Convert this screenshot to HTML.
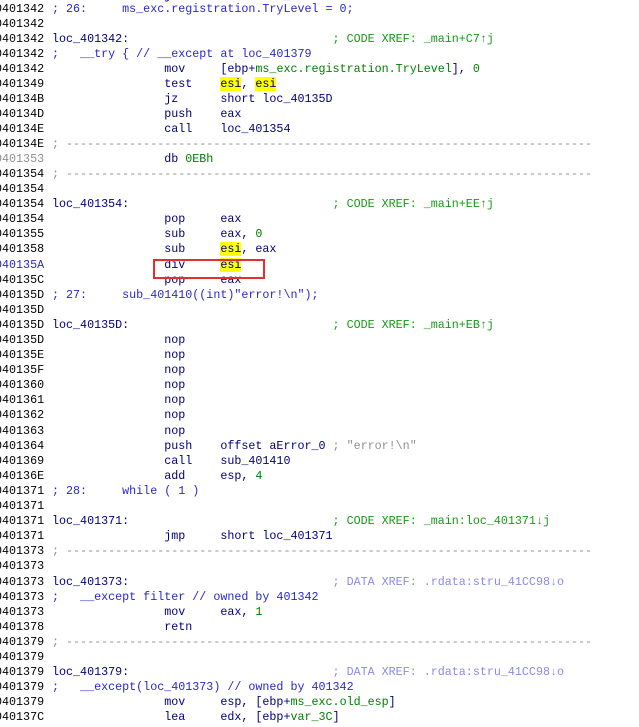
<!DOCTYPE html>
<html><head><meta charset="utf-8"><style>
html,body{margin:0;padding:0;background:#fff;width:639px;height:727px;overflow:hidden;position:relative}
.l{position:absolute;left:0;width:639px;overflow:hidden;height:15px;line-height:15px;font-family:"Liberation Mono",monospace;font-size:11.7px;white-space:pre;color:#000080}
.a{position:absolute;left:-5px;top:0;color:#000;}
.t{position:absolute;left:52px;top:0}
.c{color:#2828d0}.g{color:#008000}.x{color:#169a16}.d{color:#8a8aee}.s{color:#909090}.y{background:#ffff00}.k{color:#000}
#box{position:absolute;left:153px;top:259px;width:108px;height:16px;border:2px solid #e03030}
</style></head><body>
<div class="l" style="top:-11px"><span class="a">040134B</span><span class="t">                jz      short loc_40135D</span></div>
<div class="l" style="top:2px"><span class="a">0401342</span><span class="t"><span class="c">; 26:     ms_exc.registration.TryLevel = 0;</span></span></div>
<div class="l" style="top:17px"><span class="a">0401342</span></div>
<div class="l" style="top:32px"><span class="a">0401342</span><span class="t">loc_401342:                             <span class="x">; CODE XREF: _main+C7↑j</span></span></div>
<div class="l" style="top:47px"><span class="a">0401342</span><span class="t"><span class="c">;   __try { // __except at loc_401379</span></span></div>
<div class="l" style="top:62px"><span class="a">0401342</span><span class="t">                mov     [ebp+<span class="g">ms_exc.registration.TryLevel</span>], <span class="g">0</span></span></div>
<div class="l" style="top:77px"><span class="a">0401349</span><span class="t">                test    <span class="y">esi</span>, <span class="y">esi</span></span></div>
<div class="l" style="top:92px"><span class="a">040134B</span><span class="t">                jz      short loc_40135D</span></div>
<div class="l" style="top:107px"><span class="a">040134D</span><span class="t">                push    eax</span></div>
<div class="l" style="top:122px"><span class="a">040134E</span><span class="t">                call    loc_401354</span></div>
<div class="l" style="top:137px"><span class="a">040134E</span><span class="t"><span class="s">; ---------------------------------------------------------------------------</span></span></div>
<div class="l" style="top:152px"><span class="a" style="color:#909090">0401353</span><span class="t">                db <span class="g">0EBh</span></span></div>
<div class="l" style="top:167px"><span class="a">0401354</span><span class="t"><span class="s">; ---------------------------------------------------------------------------</span></span></div>
<div class="l" style="top:182px"><span class="a">0401354</span></div>
<div class="l" style="top:197px"><span class="a">0401354</span><span class="t">loc_401354:                             <span class="x">; CODE XREF: _main+EE↑j</span></span></div>
<div class="l" style="top:212px"><span class="a">0401354</span><span class="t">                pop     eax</span></div>
<div class="l" style="top:227px"><span class="a">0401355</span><span class="t">                sub     eax, <span class="g">0</span></span></div>
<div class="l" style="top:242px"><span class="a">0401358</span><span class="t">                sub     <span class="y">esi</span>, eax</span></div>
<div class="l" style="top:258px"><span class="a" style="color:#2828d0">040135A</span><span class="t">                div     <span class="y">esi</span></span></div>
<div class="l" style="top:273px"><span class="a">040135C</span><span class="t">                pop     eax</span></div>
<div class="l" style="top:288px"><span class="a">040135D</span><span class="t"><span class="c">; 27:     sub_401410((int)"error!\n");</span></span></div>
<div class="l" style="top:303px"><span class="a">040135D</span></div>
<div class="l" style="top:318px"><span class="a">040135D</span><span class="t">loc_40135D:                             <span class="x">; CODE XREF: _main+EB↑j</span></span></div>
<div class="l" style="top:333px"><span class="a">040135D</span><span class="t">                nop</span></div>
<div class="l" style="top:348px"><span class="a">040135E</span><span class="t">                nop</span></div>
<div class="l" style="top:363px"><span class="a">040135F</span><span class="t">                nop</span></div>
<div class="l" style="top:378px"><span class="a">0401360</span><span class="t">                nop</span></div>
<div class="l" style="top:393px"><span class="a">0401361</span><span class="t">                nop</span></div>
<div class="l" style="top:408px"><span class="a">0401362</span><span class="t">                nop</span></div>
<div class="l" style="top:424px"><span class="a">0401363</span><span class="t">                nop</span></div>
<div class="l" style="top:439px"><span class="a">0401364</span><span class="t">                push    offset aError_0 <span class="s">; "error!\n"</span></span></div>
<div class="l" style="top:454px"><span class="a">0401369</span><span class="t">                call    sub_401410</span></div>
<div class="l" style="top:469px"><span class="a">040136E</span><span class="t">                add     esp, <span class="g">4</span></span></div>
<div class="l" style="top:484px"><span class="a">0401371</span><span class="t"><span class="c">; 28:     while ( 1 )</span></span></div>
<div class="l" style="top:499px"><span class="a">0401371</span></div>
<div class="l" style="top:514px"><span class="a">0401371</span><span class="t">loc_401371:                             <span class="x">; CODE XREF: _main:loc_401371↓j</span></span></div>
<div class="l" style="top:529px"><span class="a">0401371</span><span class="t">                jmp     short loc_401371</span></div>
<div class="l" style="top:544px"><span class="a">0401373</span><span class="t"><span class="s">; ---------------------------------------------------------------------------</span></span></div>
<div class="l" style="top:559px"><span class="a">0401373</span></div>
<div class="l" style="top:575px"><span class="a">0401373</span><span class="t">loc_401373:                             <span class="d">; DATA XREF: .rdata:stru_41CC98↓o</span></span></div>
<div class="l" style="top:590px"><span class="a">0401373</span><span class="t"><span class="c">;   __except filter // owned by 401342</span></span></div>
<div class="l" style="top:605px"><span class="a">0401373</span><span class="t">                mov     eax, <span class="g">1</span></span></div>
<div class="l" style="top:620px"><span class="a">0401378</span><span class="t">                retn</span></div>
<div class="l" style="top:635px"><span class="a">0401379</span><span class="t"><span class="s">; ---------------------------------------------------------------------------</span></span></div>
<div class="l" style="top:650px"><span class="a">0401379</span></div>
<div class="l" style="top:665px"><span class="a">0401379</span><span class="t">loc_401379:                             <span class="d">; DATA XREF: .rdata:stru_41CC98↓o</span></span></div>
<div class="l" style="top:680px"><span class="a">0401379</span><span class="t"><span class="c">;   __except(loc_401373) // owned by 401342</span></span></div>
<div class="l" style="top:695px"><span class="a">0401379</span><span class="t">                mov     esp, [ebp+<span class="g">ms_exc.old_esp</span>]</span></div>
<div class="l" style="top:710px"><span class="a">040137C</span><span class="t">                lea     edx, [ebp+<span class="g">var_3C</span>]</span></div>
<div id="box"></div>
</body></html>
